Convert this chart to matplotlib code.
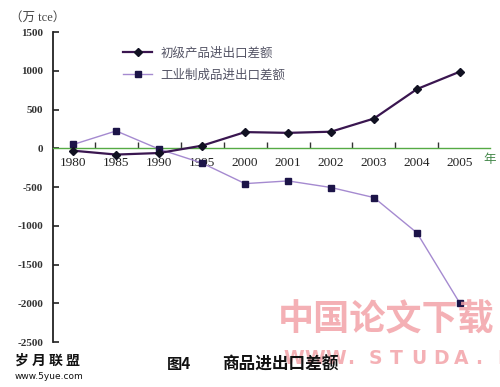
import matplotlib.pyplot as plt
import numpy as np

plt.rcParams['font.family'] = ['Noto Sans CJK SC', 'DejaVu Sans']

years = ['1980', '1985', '1990', '1995', '2000', '2001', '2002', '2003', '2004', '2005']
primary = [-30, -80, -60, 35, 210, 200, 215, 385, 765, 990]
manufactured = [50, 225, -10, -190, -455, -420, -505, -635, -1090, -2000]
label_primary = '初级产品进出口差额'
label_manuf = '工业制成品进出口差额'

fig = plt.figure(figsize=(5, 3.87), dpi=100)
ax = fig.add_axes([0.106, 0.116, 0.874, 0.801])

x = np.arange(len(years))
ax.plot(x, primary, color='#3a1650', lw=1.6, marker='D', ms=4.5,
        mfc='#111122', mec='#111122', label=label_primary, zorder=4)
ax.plot(x, manufactured, color='#a58ad0', lw=1.0, marker='s', ms=5,
        mfc='#1c1448', mec='#1c1448', label=label_manuf, zorder=3)

ax.set_xlim(-0.47, 9.7)
ax.set_ylim(-2500, 1500)
ax.set_yticks(np.arange(-2500, 1501, 500))

serif = 'Liberation Serif'
ax.set_yticklabels([str(v) for v in range(-2500, 1501, 500)], fontfamily=serif,
                   fontsize=8, fontweight='bold', color='#333333')

ax.spines['top'].set_visible(False)
ax.spines['right'].set_visible(False)
ax.spines['left'].set_color('#222222')
ax.spines['left'].set_linewidth(1.3)
ax.spines['bottom'].set_position(('data', 0))
ax.spines['bottom'].set_color('#55aa44')
ax.spines['bottom'].set_linewidth(1.0)

ax.tick_params(axis='y', direction='in', length=4, width=1.2, color='#222222', pad=7)
ax.set_xticks(np.arange(len(years) - 1) + 0.5)
ax.set_xticklabels([])
ax.set_xticks(x, minor=True)
ax.set_xticklabels(years, minor=True, fontfamily=serif, fontsize=9.5, color='#222222')
ax.tick_params(axis='x', which='major', direction='in', length=4, width=1.0, color='#333333')
ax.tick_params(axis='x', which='minor', length=0, pad=6)

leg = ax.legend(loc='upper left', bbox_to_anchor=(0.135, 0.99), frameon=False,
                handlelength=2.3, fontsize=9, labelspacing=0.75, handletextpad=0.7)
for t in leg.get_texts():
    t.set_color('#555566')

fig.text(0.02, 0.955, '（万 tce）', fontsize=9, color='#444444', va='center',
         fontfamily=[serif, 'Noto Sans CJK SC'])
fig.text(0.967, 0.587, '年', fontsize=9, color='#44884a', va='center')

# caption
fig.text(0.334, 0.059, '图4', fontsize=11, fontweight='bold', color='#111111', va='center')
fig.text(0.444, 0.059, '商品进出口差额', fontsize=12, fontweight='bold', color='#111111',
         va='center', zorder=5)

# watermarks
fig.text(0.555, 0.173, '中国论文下载', fontsize=26, fontweight='bold', color='#f3a3a8',
         alpha=0.85, va='center')
for i, ch in enumerate('WWW.STUDA.NET'):
    fig.text(0.566 + i * 0.0428, 0.074, ch, fontsize=13.5, fontweight='bold',
             color='#f3a3a8', alpha=0.85, va='center', fontfamily='DejaVu Sans')
fig.text(0.03, 0.067, '岁 月 联 盟', fontsize=10, fontweight='bold', color='#111111', va='center')
fig.text(0.03, 0.028, 'www.5yue.com', fontsize=6.5, color='#111111', va='center',
         fontfamily='DejaVu Sans')

fig.savefig('out.png', dpi=100)
